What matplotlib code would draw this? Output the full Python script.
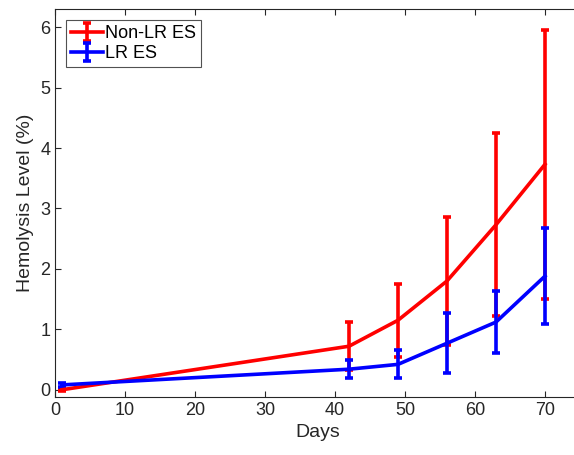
import matplotlib
matplotlib.use("Agg")
import matplotlib.pyplot as plt
import numpy as np

plt.rcParams['font.family'] = ['Liberation Sans', 'DejaVu Sans']

days = [1, 42, 49, 56, 63, 70]
nonlr_mean = [0.00, 0.72, 1.15, 1.80, 2.73, 3.73]
nonlr_err = [0.02, 0.40, 0.60, 1.06, 1.51, 2.23]
lr_mean = [0.08, 0.34, 0.42, 0.77, 1.12, 1.88]
lr_err = [0.03, 0.15, 0.23, 0.50, 0.52, 0.79]
xticks = [0, 10, 20, 30, 40, 50, 60, 70]
yticks = [0, 1, 2, 3, 4, 5, 6]

fig = plt.figure(figsize=(5.74, 4.55), dpi=100)
ax = fig.add_axes([55/574, 1 - 397/455, (580-55)/574, (397-9)/455])

ax.errorbar(days, nonlr_mean, yerr=nonlr_err, color='#ff0000', lw=2.6,
            elinewidth=2.6, capsize=3, capthick=2.6, label='Non-LR ES')
ax.errorbar(days, lr_mean, yerr=lr_err, color='#0000ff', lw=2.6,
            elinewidth=2.6, capsize=3, capthick=2.6, label='LR ES')

ax.set_xlim(0, 75)
ax.set_ylim(-0.12, 6.3)
ax.set_xticks(xticks)
ax.set_yticks(yticks)
ax.tick_params(direction='in', length=4, width=0.8, colors='#262626',
               labelsize=13, top=True, right=False, labelcolor='#262626')
for s in ax.spines.values():
    s.set_color('#262626')
    s.set_linewidth(0.8)
ax.spines['right'].set_visible(False)
ax.set_xlabel('Days', fontsize=14, color='#262626')
ax.set_ylabel('Hemolysis Level (%)', fontsize=14, color='#262626')

leg = ax.legend(loc='upper left', fontsize=13, frameon=True, fancybox=False,
                edgecolor='#262626', handlelength=1.75, handletextpad=0.1,
                borderpad=0.3, labelspacing=0.15, borderaxespad=0.6)
leg.get_frame().set_linewidth(0.8)

fig.savefig('out.png', dpi=100)
